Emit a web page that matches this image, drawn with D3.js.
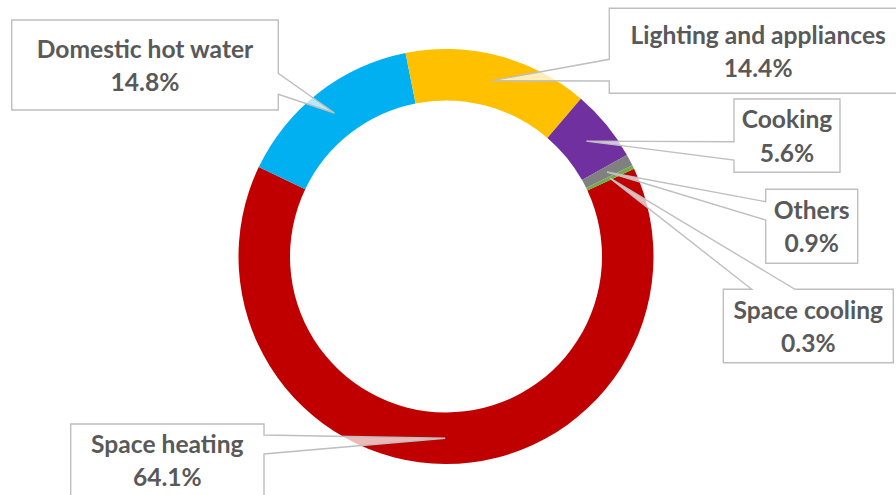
<!DOCTYPE html>
<html>
<head>
<meta charset="utf-8">
<script src="https://cdn.jsdelivr.net/npm/d3@7"></script>
<style>
  html, body { margin: 0; padding: 0; background: #ffffff; }
  svg { display: block; }
</style>
</head>
<body>
<svg id="chart" width="896" height="495"></svg>
<script>
// Household final energy use by end use (%)
const categories = ["Space heating", "Domestic hot water", "Lighting and appliances", "Cooking", "Others", "Space cooling"];
const shares = [64.1, 14.8, 14.4, 5.6, 0.9, 0.3];
const sliceColors = ["#C00000", "#00B0F0", "#FFC000", "#7030A0", "#808080", "#70AD47"];

// Callout boxes: rectangle and the side/range where the pointer leaves the box
const callouts = [
  { x0: 70.7,  y0: 424,   x1: 264,   y1: 496,   side: "right", a: 435,   b: 454 },
  { x0: 11.7,  y0: 20,    x1: 278.3, y1: 110,   side: "right", a: 73.3,  b: 94.3 },
  { x0: 609.3, y0: 8.3,   x1: 907,   y1: 93.3,  side: "left",  a: 59.3,  b: 81 },
  { x0: 734,   y0: 99,    x1: 840,   y1: 172.3, side: "left",  a: 141.7, b: 160 },
  { x0: 765.7, y0: 189.3, x1: 857.7, y1: 263.3, side: "left",  a: 201.7, b: 220 },
  { x0: 723.3, y0: 289.3, x1: 893.3, y1: 362.7, side: "top",   a: 751.7, b: 795 }
];

const svg = d3.select("#chart");
const cx = 446, cy = 256.5;
const outerR = 207.5, innerR = 156;

const pie = d3.pie()
  .sort(null)
  .value(d => d.value)
  .startAngle(65 * Math.PI / 180)
  .endAngle(65 * Math.PI / 180 + 2 * Math.PI);

const data = categories.map((c, i) => ({ name: c, value: shares[i], color: sliceColors[i] }));
const arcs = pie(data);

const arc = d3.arc().innerRadius(innerR).outerRadius(outerR);
const midArc = d3.arc().innerRadius((innerR + outerR) / 2).outerRadius((innerR + outerR) / 2);

const g = svg.append("g").attr("transform", `translate(${cx},${cy})`);
g.selectAll("path.slice")
  .data(arcs)
  .join("path")
  .attr("class", "slice")
  .attr("d", arc)
  .attr("fill", d => d.data.color);

// Callout shapes: box outline with a wedge running to the middle of each slice
function calloutPath(box, tip) {
  const { x0, y0, x1, y1, side, a, b } = box;
  let pts;
  if (side === "right") {
    pts = [[x0, y0], [x1, y0], [x1, a], tip, [x1, b], [x1, y1], [x0, y1]];
  } else if (side === "left") {
    pts = [[x0, y0], [x1, y0], [x1, y1], [x0, y1], [x0, b], tip, [x0, a]];
  } else {
    pts = [[x0, y0], [a, y0], tip, [b, y0], [x1, y0], [x1, y1], [x0, y1]];
  }
  return "M" + pts.map(p => p.join(",")).join("L") + "Z";
}

const labels = svg.append("g");
arcs.forEach((d, i) => {
  const box = callouts[i];
  const c = midArc.centroid(d);
  const tip = [cx + c[0], cy + c[1]];
  labels.append("path")
    .attr("d", calloutPath(box, tip))
    .attr("fill", "rgba(255,255,255,0.72)")
    .attr("stroke", "#BFBFBF")
    .attr("stroke-width", 1.4)
    .attr("stroke-linejoin", "miter");

  const tx = (box.x0 + box.x1) / 2;
  const mid = (box.y0 + box.y1) / 2;
  const t = labels.append("text")
    .attr("text-anchor", "middle")
    .attr("font-family", "Lato, 'Open Sans', sans-serif")
    .attr("font-weight", 700)
    .attr("font-size", 24.6)
    .attr("fill", "#595959");
  t.append("tspan").attr("x", tx).attr("y", mid - 7.3).text(d.data.name);
  t.append("tspan").attr("x", tx).attr("y", mid + 25.9).text(d.data.value.toFixed(1) + "%");
});
</script>
</body>
</html>
